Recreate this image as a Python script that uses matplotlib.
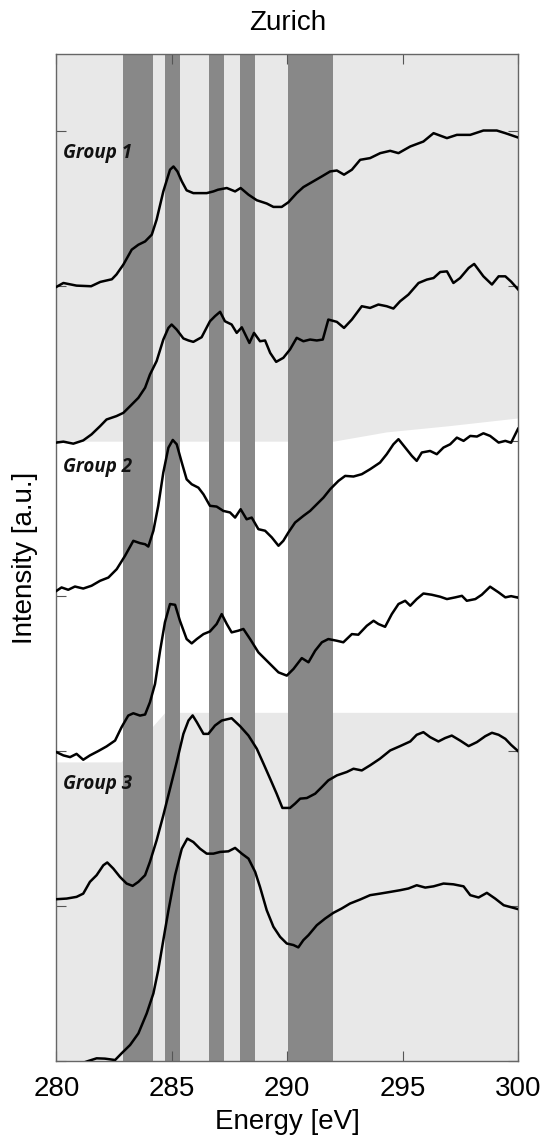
import numpy as np
import matplotlib.pyplot as plt

plt.rcParams['font.family'] = ['Liberation Sans', 'DejaVu Sans']

# C K-edge NEXAFS spectra, Zurich samples (normalised, stacked)
e1 = [280.0, 280.3, 280.87, 281.5, 281.9, 282.4, 282.6, 282.9, 283.26, 283.55,
      283.84, 284.13, 284.34, 284.63, 284.92, 285.07, 285.24, 285.43, 285.64, 285.93,
      286.51, 286.8, 287.0, 287.38, 287.74, 287.98, 288.32, 288.68, 289.11, 289.4,
      289.76, 290.05, 290.41, 290.7, 291.13, 291.5, 291.86, 292.15, 292.46, 292.8,
      293.16, 293.59, 294.03, 294.46, 294.82, 295.33, 295.9, 296.34, 296.92, 297.35,
      297.93, 298.5, 299.08, 299.45, 300.0]
s1 = [-0.004, 0.021, 0.004, 0.0, 0.028, 0.045, 0.076, 0.14, 0.236, 0.268,
      0.289, 0.333, 0.43, 0.612, 0.752, 0.773, 0.741, 0.677, 0.619, 0.601,
      0.601, 0.612, 0.623, 0.634, 0.612, 0.634, 0.591, 0.555, 0.534, 0.512,
      0.512, 0.542, 0.601, 0.64, 0.677, 0.709, 0.741, 0.747, 0.72, 0.752,
      0.816, 0.827, 0.859, 0.874, 0.859, 0.902, 0.934, 0.988, 0.956, 0.977,
      0.977, 1.005, 1.005, 0.988, 0.96]

e2 = [280.0, 280.3, 280.73, 281.16, 281.52, 281.89, 282.17, 282.6, 282.9, 283.19,
      283.55, 283.84, 284.05, 284.34, 284.63, 284.85, 284.99, 285.21, 285.5, 285.72,
      285.93, 286.29, 286.65, 286.87, 287.09, 287.3, 287.59, 287.81, 288.03, 288.36,
      288.56, 288.82, 289.04, 289.26, 289.52, 289.83, 290.12, 290.41, 290.7, 290.99,
      291.28, 291.54, 291.78, 292.15, 292.46, 292.8, 293.23, 293.59, 293.95, 294.31,
      294.6, 294.89, 295.25, 295.69, 296.05, 296.34, 296.63, 296.92, 297.2, 297.49,
      297.86, 298.1, 298.5, 298.87, 299.16, 299.45, 299.7, 300.0]
s2 = [-0.009, -0.003, -0.016, 0.005, 0.044, 0.097, 0.14, 0.162, 0.183, 0.226,
      0.28, 0.345, 0.43, 0.517, 0.656, 0.731, 0.753, 0.72, 0.663, 0.65,
      0.641, 0.671, 0.774, 0.807, 0.835, 0.774, 0.753, 0.699, 0.735, 0.634,
      0.699, 0.645, 0.65, 0.57, 0.512, 0.538, 0.592, 0.667, 0.645, 0.656,
      0.65, 0.656, 0.785, 0.77, 0.731, 0.785, 0.871, 0.86, 0.882, 0.871,
      0.856, 0.903, 0.946, 1.021, 1.043, 1.053, 1.092, 1.096, 1.021, 1.053,
      1.118, 1.144, 1.064, 1.011, 1.064, 1.064, 1.03, 0.98]

e3 = [280.0, 280.22, 280.51, 280.8, 281.16, 281.52, 281.89, 282.25, 282.61, 282.97,
      283.33, 283.62, 283.84, 283.98, 284.2, 284.41, 284.63, 284.85, 285.04, 285.21,
      285.43, 285.64, 285.86, 286.15, 286.37, 286.65, 286.94, 287.23, 287.52, 287.74,
      287.98, 288.24, 288.46, 288.75, 289.04, 289.33, 289.62, 289.83, 290.05, 290.34,
      290.7, 290.99, 291.28, 291.57, 291.86, 292.22, 292.51, 292.87, 293.23, 293.59,
      294.02, 294.31, 294.6, 294.82, 295.11, 295.4, 295.61, 295.83, 296.19, 296.48,
      296.77, 297.06, 297.35, 297.64, 297.93, 298.22, 298.5, 298.79, 299.16, 299.45,
      299.7, 300.0]
s3 = [0.034, 0.056, 0.041, 0.062, 0.049, 0.067, 0.099, 0.12, 0.174, 0.26,
      0.357, 0.342, 0.335, 0.32, 0.422, 0.583, 0.798, 0.958, 1.008, 0.98,
      0.862, 0.754, 0.722, 0.7, 0.657, 0.583, 0.578, 0.55, 0.54, 0.507,
      0.561, 0.496, 0.507, 0.432, 0.422, 0.379, 0.325, 0.357, 0.411, 0.475,
      0.518, 0.55, 0.593, 0.636, 0.69, 0.744, 0.776, 0.772, 0.787, 0.819,
      0.862, 0.916, 0.98, 1.013, 0.959, 0.905, 0.873, 0.927, 0.937, 0.916,
      0.959, 0.98, 1.023, 1.002, 1.034, 1.03, 1.051, 1.034, 0.991, 1.002,
      0.99, 1.08]

e4 = [280.0, 280.3, 280.59, 280.87, 281.16, 281.45, 281.81, 282.17, 282.54, 282.82,
      283.11, 283.33, 283.62, 283.84, 284.05, 284.27, 284.49, 284.7, 284.92, 285.14,
      285.35, 285.64, 285.86, 286.08, 286.37, 286.65, 286.94, 287.16, 287.38, 287.59,
      287.88, 288.1, 288.39, 288.75, 289.04, 289.33, 289.62, 289.98, 290.27, 290.63,
      290.92, 291.21, 291.5, 291.78, 292.15, 292.43, 292.8, 293.08, 293.45, 293.74,
      293.95, 294.24, 294.53, 294.82, 295.11, 295.33, 295.61, 295.9, 296.26, 296.63,
      296.92, 297.28, 297.57, 297.78, 298.15, 298.43, 298.79, 299.16, 299.45, 299.7,
      300.0]
s4 = [-0.007, -0.028, -0.039, -0.018, -0.056, -0.028, 0.0, 0.03, 0.068, 0.154,
      0.229, 0.244, 0.229, 0.236, 0.315, 0.433, 0.648, 0.831, 0.949, 0.944,
      0.841, 0.723, 0.695, 0.723, 0.755, 0.772, 0.82, 0.884, 0.82, 0.766,
      0.777, 0.788, 0.723, 0.637, 0.594, 0.551, 0.508, 0.487, 0.53, 0.6,
      0.573, 0.648, 0.702, 0.723, 0.712, 0.702, 0.755, 0.751, 0.809, 0.841,
      0.82, 0.802, 0.884, 0.949, 0.97, 0.938, 0.981, 1.017, 1.009, 0.996,
      0.981, 0.992, 1.002, 0.97, 0.981, 1.009, 1.061, 1.024, 0.992, 1.0,
      0.99]

e5 = [280.0, 280.44, 280.87, 281.16, 281.45, 281.74, 282.03, 282.2, 282.46, 282.75,
      283.04, 283.3, 283.55, 283.84, 284.05, 284.34, 284.63, 284.92, 285.21, 285.5,
      285.72, 285.9, 286.08, 286.37, 286.58, 286.87, 287.16, 287.59, 287.96, 288.32,
      288.68, 288.97, 289.26, 289.54, 289.79, 290.12, 290.34, 290.56, 290.85, 291.21,
      291.5, 291.78, 292.15, 292.58, 292.87, 293.23, 293.59, 294.02, 294.46, 294.89,
      295.33, 295.61, 295.9, 296.19, 296.55, 296.84, 297.13, 297.49, 297.86, 298.22,
      298.58, 298.87, 299.16, 299.45, 299.7, 300.0]
s5 = [0.044, 0.048, 0.059, 0.08, 0.156, 0.199, 0.263, 0.281, 0.242, 0.188,
      0.145, 0.13, 0.156, 0.199, 0.285, 0.424, 0.585, 0.757, 0.929, 1.111,
      1.197, 1.23, 1.187, 1.111, 1.111, 1.165, 1.197, 1.212, 1.16, 1.1,
      1.015, 0.919, 0.821, 0.725, 0.633, 0.633, 0.661, 0.693, 0.697, 0.725,
      0.768, 0.811, 0.843, 0.865, 0.886, 0.875, 0.908, 0.951, 1.004, 1.032,
      1.062, 1.105, 1.122, 1.09, 1.062, 1.084, 1.1, 1.068, 1.032, 1.058,
      1.096, 1.118, 1.105, 1.079, 1.04, 1.0]

e6 = [280.0, 281.0, 281.38, 281.74, 282.1, 282.54, 282.82, 283.19, 283.55, 283.91,
      284.2, 284.41, 284.63, 284.85, 285.14, 285.43, 285.67, 285.93, 286.22, 286.51,
      286.8, 287.09, 287.45, 287.74, 288.03, 288.32, 288.61, 288.82, 289.11, 289.4,
      289.69, 289.98, 290.27, 290.48, 290.7, 290.92, 291.28, 291.64, 292.0, 292.36,
      292.72, 293.16, 293.59, 294.02, 294.46, 294.89, 295.25, 295.61, 295.98, 296.34,
      296.77, 297.2, 297.64, 297.93, 298.29, 298.65, 299.01, 299.38, 300.0]
s6 = [-0.03, -0.02, 0.0, 0.017, 0.015, 0.006, 0.049, 0.103, 0.178, 0.307,
      0.436, 0.586, 0.78, 0.97, 1.199, 1.37, 1.435, 1.413, 1.37, 1.338,
      1.338, 1.349, 1.353, 1.375, 1.338, 1.306, 1.22, 1.123, 0.973, 0.866,
      0.801, 0.758, 0.748, 0.733, 0.78, 0.812, 0.876, 0.919, 0.956, 0.984,
      1.016, 1.042, 1.07, 1.08, 1.091, 1.102, 1.113, 1.134, 1.119, 1.127,
      1.145, 1.14, 1.127, 1.07, 1.055, 1.085, 1.048, 1.005, 0.98]

energies = [e1, e2, e3, e4, e5, e6]
spectra = [s1, s2, s3, s4, s5, s6]
offsets = [5, 4, 3, 2, 1, 0]

# energy windows of the main absorption features
bands = [(282.9, 284.2), (284.7, 285.35), (286.6, 287.25), (287.95, 288.6), (290.05, 292.0)]
groups = ['Group 1', 'Group 2', 'Group 3']

fig = plt.figure(figsize=(5.43, 11.38), dpi=100)
ax = fig.add_axes([0.104, 0.0677, 0.85, 0.885])
ax.set_xlim(280, 300)
ax.set_ylim(0, 6.5)

# light background behind groups 1 and 3
ax.fill_between([280, 292, 294.3, 297, 300], [4.0, 4.0, 4.06, 4.1, 4.15], 6.5,
                color='#e8e8e8', lw=0, zorder=0)
ax.fill_between([280, 282.8, 284.7, 300], 0, [1.93, 1.93, 2.25, 2.25],
                color='#e8e8e8', lw=0, zorder=0)

for lo, hi in bands:
    ax.axvspan(lo, hi, color='#888888', lw=0, zorder=1)

for e, s, off in zip(energies, spectra, offsets):
    ax.plot(e, np.array(s) + off, color='black', lw=1.8, zorder=3)

for name, y in zip(groups, [5.857, 3.836, 1.789]):
    ax.text(280.3, y, name, fontsize=13.5, fontweight='bold', fontstyle='italic',
            family=['Open Sans', 'DejaVu Sans'], va='center', ha='left', color='#111111', zorder=4)

ax.set_xticks([280, 285, 290, 295, 300])
ax.set_yticks(range(7))
ax.set_yticklabels([])
ax.tick_params(direction='in', length=7, width=0.8, color='#555555',
               top=True, right=True, labelsize=20, pad=11)
for sp in ax.spines.values():
    sp.set_color('#666666')
    sp.set_linewidth(1.0)

ax.set_title('Zurich', fontsize=20, pad=17)
ax.set_xlabel('Energy [eV]', fontsize=20, labelpad=5)
ax.set_ylabel('Intensity [a.u.]', fontsize=20, labelpad=2)

fig.savefig('out.png', dpi=100)
